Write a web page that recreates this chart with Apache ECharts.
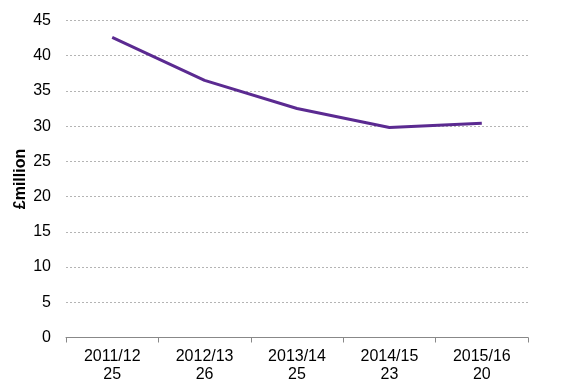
<!DOCTYPE html>
<html><head><meta charset="utf-8">
<script src="https://cdn.jsdelivr.net/npm/echarts@6/dist/echarts.min.js"></script>
<style>html,body{margin:0;padding:0;background:#fff}#c{width:583px;height:386px}</style>
</head><body><div id="c"></div>
<script>
const categories = ['2011/12\n25', '2012/13\n26', '2013/14\n25', '2014/15\n23', '2015/16\n20'];
const values = [42.6, 36.5, 32.5, 29.8, 30.4];
const yTicks = { min: 0, max: 45, interval: 5 };

const chart = echarts.init(document.getElementById('c'), null, { renderer: 'canvas' });
chart.setOption({
  animation: false,
  backgroundColor: '#fff',
  grid: { left: 66, right: 55, top: 20.5, bottom: 48.5, containLabel: false, outerBoundsMode: 'none' },
  xAxis: {
    type: 'category',
    data: categories,
    boundaryGap: true,
    axisLine: { lineStyle: { color: '#888', width: 1 } },
    axisTick: { show: true, length: 5, lineStyle: { color: '#888' } },
    axisLabel: { color: '#000', fontFamily: 'Liberation Sans, Arial, sans-serif', fontSize: 16, lineHeight: 18, margin: 10 }
  },
  yAxis: {
    type: 'value',
    min: yTicks.min, max: yTicks.max, interval: yTicks.interval,
    name: '£million',
    nameLocation: 'middle',
    nameGap: 37,
    nameMoveOverlap: false,
    nameTextStyle: { color: '#000', fontFamily: 'Liberation Sans, Arial, sans-serif', fontSize: 16, fontWeight: 'bold' },
    axisLine: { show: false },
    axisTick: { show: false },
    axisLabel: { color: '#000', fontFamily: 'Liberation Sans, Arial, sans-serif', fontSize: 16, margin: 15 },
    splitLine: { lineStyle: { color: '#b4b4b4', type: [2, 2], width: 1 } }
  },
  series: [{
    type: 'line',
    data: values,
    symbol: 'none',
    lineStyle: { color: '#5b2a91', width: 3 },
    itemStyle: { color: '#5b2a91' }
  }]
});
</script></body></html>
